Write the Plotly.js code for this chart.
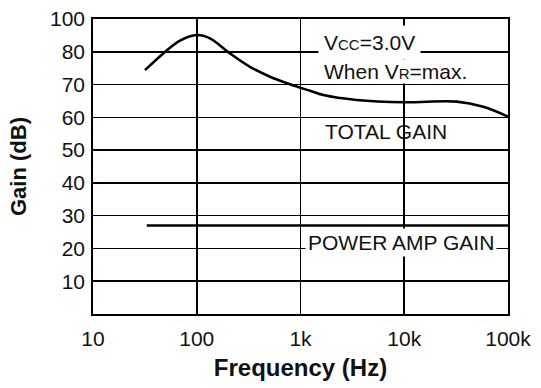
<!DOCTYPE html>
<html>
<head>
<meta charset="utf-8">
<script src="https://cdn.plot.ly/plotly-3.0.1.min.js"></script>
<style>html,body{margin:0;padding:0;background:#fff;}#chart{width:541px;height:388px;}</style>
</head>
<body>
<div id="chart"></div>
<script>
// Total gain curve (Hz, dB as plotted)
const totalFreq = [31.7, 47.6, 69, 100, 134, 209, 326, 508, 792, 1236, 1660, 3480, 10000, 32000, 57800, 100000];
const totalGain = [74.4, 79.5, 83.4, 85.1, 84.1, 79.5, 75.4, 72.4, 70.1, 68.1, 66.8, 65.3, 64.6, 64.8, 63.2, 60.2];
// Power amp gain
const ampFreq = [33, 100000];
const ampGain = [27, 27];
// Axis ticks (x: decades 10 .. 100k, labelled 10, 100, 1k, 10k, 100k)
const xDecadeFirst = 1, xDecadeLast = 5;
const yTickVals = [10, 20, 30, 40, 50, 60, 70, 80, 90];
const yTickText = ['10', '20', '30', '40', '50', '60', '70', '80', '100'];

const font = 'Liberation Sans, Arial, Helvetica, sans-serif';

const traces = [
  {x: totalFreq, y: totalGain, mode: 'lines', line: {color: '#000', width: 2.6, shape: 'spline', smoothing: 1}, hoverinfo: 'skip'},
  {x: ampFreq, y: ampGain, mode: 'lines', line: {color: '#000', width: 2.6}, hoverinfo: 'skip'}
];

const layout = {
  width: 541, height: 388,
  margin: {l: 93, r: 33, t: 19, b: 74},
  paper_bgcolor: '#fff', plot_bgcolor: '#fff',
  showlegend: false,
  font: {family: font, color: '#111', size: 21},
  xaxis: {
    type: 'log', range: [xDecadeFirst, xDecadeLast],
    tickmode: 'linear', tick0: 0, dtick: 1, tickformat: '~s',
    showgrid: true, gridcolor: '#000000', gridwidth: 1.6,
    showline: true, linecolor: '#000', linewidth: 1.8, mirror: true,
    ticks: '', ticklabelstandoff: 5,
    zeroline: false,
    tickfont: {family: font, size: 21, color: '#111'},
    title: {text: '<b>Frequency (Hz)</b>', font: {family: font, size: 24, color: '#111'}, standoff: 10}
  },
  yaxis: {
    range: [0, 90],
    tickvals: yTickVals, ticktext: yTickText,
    showgrid: true, gridcolor: '#000000', gridwidth: 1.6,
    showline: true, linecolor: '#000', linewidth: 1.8, mirror: true,
    ticks: '', ticklabelstandoff: 2,
    zeroline: false,
    tickfont: {family: font, size: 21, color: '#111'},
    title: {text: '<b>Gain (dB)</b>', font: {family: font, size: 22, color: '#111'}, standoff: 17}
  },
  annotations: [
    {xref: 'paper', yref: 'paper', x: 0.543, y: 0.919, xanchor: 'left', yanchor: 'middle', showarrow: false,
     text: 'V<span style="font-size:15px">CC</span>=3.0V', font: {family: font, size: 21, color: '#111'},
     bgcolor: '#fff', borderpad: 5},
    {xref: 'paper', yref: 'paper', x: 0.554, y: 0.822, xanchor: 'left', yanchor: 'middle', showarrow: false,
     text: 'When V<span style="font-size:15px">R</span>=max.', font: {family: font, size: 21, color: '#111'},
     bgcolor: '#fff', borderpad: 0},
    {xref: 'paper', yref: 'paper', x: 0.554, y: 0.62, xanchor: 'left', yanchor: 'middle', showarrow: false,
     text: 'TOTAL GAIN', font: {family: font, size: 21, color: '#111'}},
    {xref: 'paper', yref: 'paper', x: 0.51, y: 0.241, xanchor: 'left', yanchor: 'middle', showarrow: false,
     text: 'POWER AMP GAIN', font: {family: font, size: 21, color: '#111'},
     bgcolor: '#fff', borderpad: 2}
  ]
};

Plotly.newPlot('chart', traces, layout, {displayModeBar: false, staticPlot: true});
</script>
</body>
</html>
